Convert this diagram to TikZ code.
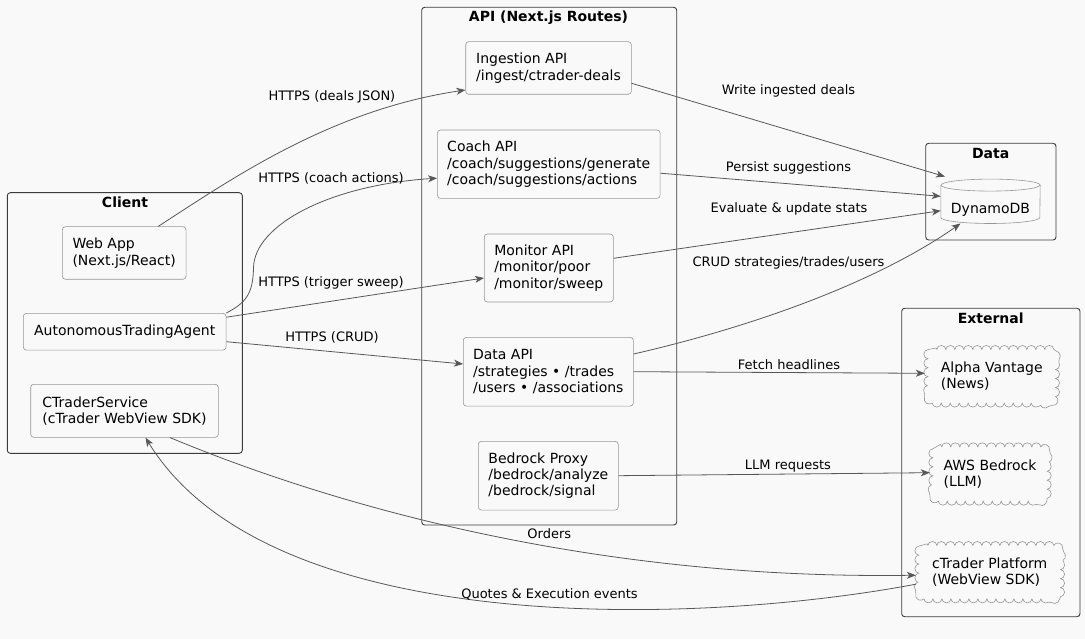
\documentclass[tikz,border=0pt]{standalone}
\usepackage{fontspec}
\setmainfont{DejaVu Sans}
\usetikzlibrary{arrows.meta,decorations.pathmorphing,calc}
\definecolor{bgc}{RGB}{249,249,249}
\definecolor{edgec}{RGB}{88,88,88}
\definecolor{boxc}{RGB}{150,150,150}
\definecolor{clc}{RGB}{60,60,60}
\tikzset{
  comp/.style={draw=boxc, line width=0.6pt, rounded corners=3pt, align=left, inner sep=0pt,
    font=\fontsize{14}{16.3}\selectfont, text=black},
  cloudbox/.style={align=left, inner sep=0pt, font=\fontsize{14}{16.3}\selectfont, text=black},
  cloudline/.style={draw=boxc, line width=0.6pt, decorate,
    decoration={bumps, segment length=18pt, amplitude=4pt}},
  clus/.style={draw=clc, line width=0.9pt, rounded corners=3pt},
  ttl/.style={font=\bfseries\fontsize{14}{16}\selectfont, inner sep=0pt},
  edge/.style={draw=edgec, line width=0.8pt, -{Stealth[length=9pt,width=7pt,inset=2.5pt]}},
  lbl/.style={font=\fontsize{13}{15}\selectfont, inner sep=0pt, text=black},
}
\begin{document}
\begin{tikzpicture}[x=1pt,y=-1pt]
\fill[bgc] (0,0) rectangle (1085,639);
\useasboundingbox (0,0) rectangle (1085,639);

% clusters
\draw[clus] (7.3,192.7) rectangle (242.3,453.3);
\node[ttl] (tclient) at (125,202.3) {Client};
\draw[clus] (421.7,7.3) rectangle (676.7,525);
\node[ttl] (tapi) at (548.5,17.5) {API (Next.js Routes)};
\draw[clus] (925.7,143.3) rectangle (1056,240);
\node[ttl] (tdata) at (990.7,153.3) {Data};
\draw[clus] (901.7,308.3) rectangle (1080,616.7);
\node[ttl] (text) at (990.7,318.3) {External};

% client components
\node[comp, minimum width=123.7pt, minimum height=52.6pt] (webapp) at (124.2,253) {Web App\\(Next.js/React)};
\node[comp, minimum width=202.7pt, minimum height=36.7pt] (agent) at (124.7,331.7) {AutonomousTradingAgent};
\node[comp, minimum width=187.6pt, minimum height=53pt] (ctsvc) at (124.5,410.8) {CTraderService\\(cTrader WebView SDK)};

% api components
\node[comp, minimum width=165.6pt, minimum height=52.6pt] (ingest) at (548.5,68) {Ingestion API\\/ingest/ctrader-deals};
\node[comp, minimum width=222.7pt, minimum height=68.3pt] (coach) at (548.7,164.2) {Coach API\\/coach/suggestions/generate\\/coach/suggestions/actions};
\node[comp, minimum width=129pt, minimum height=68pt] (monitor) at (548.8,268) {Monitor API\\/monitor/poor\\/monitor/sweep};
\node[comp, minimum width=170pt, minimum height=68.7pt] (dataapi) at (548.3,371.7) {Data API\\/strategies • /trades\\/users • /associations};
\node[comp, minimum width=140pt, minimum height=68.7pt] (bedrock) at (548.3,475.7) {Bedrock Proxy\\/bedrock/analyze\\/bedrock/signal};

% data store
\node[inner sep=0pt, minimum width=99pt, minimum height=44pt,
  label={[font=\fontsize{14}{16.3}\selectfont, yshift=-8.7pt]center:DynamoDB}] (db) at (990.5,201.3) {};
\draw[draw=boxc, line width=0.6pt] ([yshift=-6pt]db.north west) -- ([yshift=6pt]db.south west)
  arc[start angle=180, end angle=360, x radius=49.5pt, y radius=6pt]
  -- ([yshift=-6pt]db.north east)
  arc[start angle=0, end angle=180, x radius=49.5pt, y radius=6pt] -- cycle;
\draw[draw=boxc, line width=0.6pt] ([yshift=-6pt]db.north west)
  arc[start angle=180, end angle=360, x radius=49.5pt, y radius=6pt];

% external clouds
\node[cloudbox, minimum width=133.3pt, minimum height=59.3pt] (av) at (991.7,376.3) {Alpha Vantage\\(News)};
\node[cloudbox, minimum width=120pt, minimum height=60pt] (awsb) at (990,474) {AWS Bedrock\\(LLM)};
\node[cloudbox, minimum width=147.3pt, minimum height=59pt] (ctp) at (989.7,572.2) {cTrader Platform\\(WebView SDK)};
\foreach \c in {av,awsb,ctp}{
  \path ([shift={(3pt,-3pt)}]\c.north west) coordinate (nw)
        ([shift={(-3pt,3pt)}]\c.south east) coordinate (se);
  \draw[cloudline] ($(nw)+(9pt,0)$) -- ($(se|-nw)+(-9pt,0)$)
    arc[start angle=90, end angle=0, radius=9pt] -- ($(se)+(0,9pt)$)
    arc[start angle=0, end angle=-90, radius=9pt] -- ($(nw|-se)+(9pt,0)$)
    arc[start angle=270, end angle=180, radius=9pt] -- ($(nw)+(0,-9pt)$)
    arc[start angle=180, end angle=90, radius=9pt] -- cycle;
}

% connectors
\draw[edge] ([xshift=34pt]webapp.north) .. controls (230,180) and (330,110) .. ([yshift=-22pt]ingest.west)
  node[lbl] at (332,97) {HTTPS (deals JSON)};
\draw[edge] (agent.north east) .. controls (245,303) and (253,295) .. (253.5,268)
  .. controls (254,225) and (330,185) .. ([yshift=-14pt]coach.west)
  node[lbl] at (331,178) {HTTPS (coach actions)};
\draw[edge] ([yshift=14.5pt]agent.east) -- ([yshift=-10pt]monitor.west)
  node[lbl] at (331,283) {HTTPS (trigger sweep)};
\draw[edge] ([yshift=-10pt]agent.east) -- ([yshift=7.7pt]dataapi.west)
  node[lbl] at (332,337) {HTTPS (CRUD)};

\draw[edge] ([yshift=-15.3pt]ingest.east) -- ([xshift=-45.5pt,yshift=2.5pt]db.north)
  node[lbl] at (788.5,90.7) {Write ingested deals};
\draw[edge] ([yshift=-9pt]coach.east) -- ([yshift=5pt]db.west)
  node[lbl] at (788.5,168.3) {Persist suggestions};
\draw[edge] ([yshift=9.7pt]monitor.east) -- ([yshift=-9.4pt]db.west)
  node[lbl] at (789,209.3) {Evaluate \& update stats};
\draw[edge] ([yshift=17.7pt]dataapi.east) .. controls (760,325) and (880,280) .. ([xshift=-30pt]db.south)
  node[lbl] at (788.5,263.3) {CRUD strategies/trades/users};
\draw[edge] (dataapi.east) -- ([yshift=3pt]av.west)
  node[lbl] at (789,364.3) {Fetch headlines};
\draw[edge] (bedrock.east) -- ([yshift=1.3pt]awsb.west)
  node[lbl] at (788,466) {LLM requests};

\draw[edge] ([xshift=45.5pt]ctsvc.south) .. controls (320,500) and (580,580) .. ([yshift=-3pt]ctp.west)
  node[lbl] at (549.3,534) {Orders};
\draw[edge] ([yshift=-12pt]ctp.west) .. controls (700,625) and (270,640) .. ([xshift=21pt]ctsvc.south)
  node[lbl] at (549.5,594.5) {Quotes \& Execution events};
\end{tikzpicture}
\end{document}
